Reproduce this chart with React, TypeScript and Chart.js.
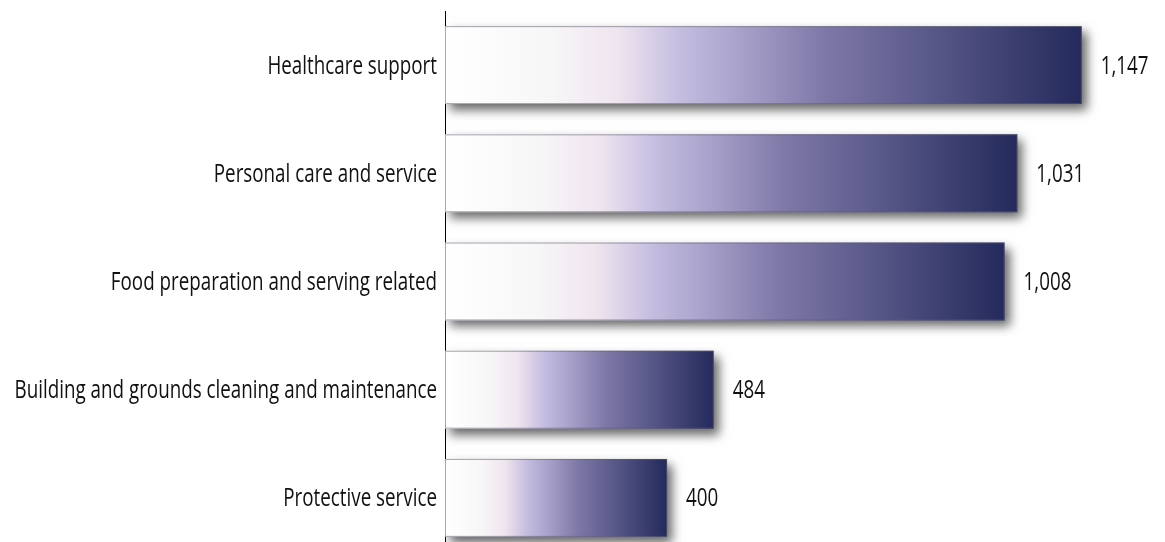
import React, { useEffect, useRef } from "react";
import { Chart, registerables } from "chart.js";

Chart.register(...registerables);

const categories = [
  "Healthcare support",
  "Personal care and service",
  "Food preparation and serving related",
  "Building and grounds cleaning and maintenance",
  "Protective service",
];
const values = [1147, 1031, 1008, 484, 400];
const valueLabels = ["1,147", "1,031", "1,008", "484", "400"];

const FONT = "'Open Sans', 'Noto Sans', sans-serif";
const FONT_SIZE = 26;
const SQUEEZE = 0.723;

function drawSqueezed(ctx: CanvasRenderingContext2D, text: string, x: number, y: number, align: "left" | "right") {
  ctx.save();
  ctx.translate(x, y);
  ctx.scale(SQUEEZE, 1);
  ctx.textAlign = align;
  ctx.textBaseline = "middle";
  ctx.fillText(text, 0, 0);
  ctx.restore();
}

const barPlugin = {
  id: "barDecor",
  beforeDatasetsDraw(chart: any) {
    const ctx = chart.ctx;
    ctx.save();
    ctx.shadowColor = "rgba(0,0,0,0.6)";
    ctx.shadowBlur = 10;
    ctx.shadowOffsetX = 5;
    ctx.shadowOffsetY = 6;
  },
  afterDatasetsDraw(chart: any) {
    const ctx = chart.ctx;
    ctx.restore();
    const meta = chart.getDatasetMeta(0);
    const yScale = chart.scales.y;
    ctx.save();
    ctx.strokeStyle = "rgba(95,95,110,0.55)";
    ctx.lineWidth = 1;
    meta.data.forEach((el: any) => {
      const top = el.y - el.height / 2;
      ctx.strokeRect(el.base + 0.5, top + 0.5, el.x - el.base - 1, el.height - 1);
    });
    ctx.fillStyle = "#111";
    ctx.font = `${FONT_SIZE}px ${FONT}`;
    meta.data.forEach((el: any, i: number) => {
      drawSqueezed(ctx, valueLabels[i], el.x + 19, el.y + 1, "left");
    });
    categories.forEach((c, i) => {
      drawSqueezed(ctx, c, yScale.right - 8, yScale.getPixelForValue(i) + 1, "right");
    });
    ctx.restore();
  },
};

export default function App() {
  const ref = useRef<HTMLCanvasElement>(null);
  useEffect(() => {
    if (!ref.current) return;
    const chart = new Chart(ref.current, {
      type: "bar",
      data: {
        labels: categories,
        datasets: [
          {
            data: values,
            backgroundColor: (c: any) => {
              const ch = c.chart;
              if (!ch.chartArea || !ch.scales.x) return "#667";
              const xs = ch.scales.x;
              const x0 = xs.getPixelForValue(0);
              const x1 = xs.getPixelForValue(c.raw ?? 0);
              const g = ch.ctx.createLinearGradient(x0, 0, x1, 0);
              g.addColorStop(0, "#ffffff");
              g.addColorStop(0.16, "#f8f7f8");
              g.addColorStop(0.27, "#efe5ef");
              g.addColorStop(0.37, "#c4bde0");
              g.addColorStop(0.48, "#a39cc6");
              g.addColorStop(0.6, "#7d77a7");
              g.addColorStop(0.74, "#5e5d8d");
              g.addColorStop(0.88, "#3e4172");
              g.addColorStop(1, "#242a5c");
              return g;
            },
            borderWidth: 0,
            barPercentage: 0.72,
            categoryPercentage: 1,
          },
        ],
      },
      options: {
        indexAxis: "y",
        animation: false,
        responsive: true,
        maintainAspectRatio: false,
        layout: { padding: { top: 11, bottom: 8, left: 0, right: 0 } },
        plugins: { legend: { display: false }, tooltip: { enabled: false } },
        scales: {
          x: {
            display: false,
            min: 0,
            max: 1297,
          },
          y: {
            grid: { display: false, drawTicks: false },
            border: { display: true, color: "#000", width: 1 },
            ticks: { display: false },
            afterFit: (s: any) => {
              s.width = 445;
              s.paddingTop = 0;
              s.paddingBottom = 0;
            },
          },
        },
      },
      plugins: [barPlugin],
    });
    return () => chart.destroy();
  }, []);
  return (
    <div
      style={{
        position: "fixed",
        left: 0,
        top: 0,
        width: 1165,
        height: 542,
        overflow: "hidden",
        background: "#fff",
      }}
    >
      <div style={{ position: "relative", width: 1165, height: 560 }}>
        <canvas ref={ref} />
      </div>
    </div>
  );
}
